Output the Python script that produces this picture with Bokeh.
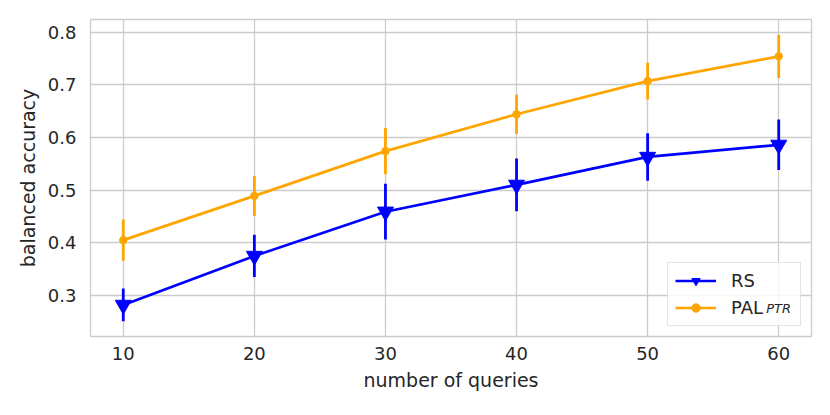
from bokeh.plotting import figure
from bokeh.models import Range1d, FixedTicker, Legend, LegendItem, ColumnDataSource
from bokeh.embed import file_html
from bokeh.resources import INLINE

queries = [10, 20, 30, 40, 50, 60]
rs_mean = [0.282, 0.375, 0.459, 0.510, 0.563, 0.586]
rs_err = [0.031, 0.040, 0.053, 0.050, 0.045, 0.048]
pal_mean = [0.405, 0.489, 0.574, 0.644, 0.707, 0.754]
pal_err = [0.039, 0.038, 0.044, 0.037, 0.035, 0.041]
x_ticks = [10, 20, 30, 40, 50, 60]
y_ticks = [0.3, 0.4, 0.5, 0.6, 0.7, 0.8]

BLUE = "#0000ff"
ORANGE = "#ffa500"
TXT = "#262626"
GRID = "#cccccc"
FONT = "DejaVu Sans"

p = figure(width=814, height=399, output_backend="svg", toolbar_location=None,
           x_range=Range1d(7.5, 62.5), y_range=Range1d(0.222, 0.824),
           min_border_left=90, min_border_right=3, min_border_top=19, min_border_bottom=63)

p.background_fill_color = "white"
p.outline_line_color = GRID
p.outline_line_width = 1.3

for ax in (p.xaxis[0], p.yaxis[0]):
    ax.axis_line_color = None
    ax.major_tick_line_color = None
    ax.minor_tick_line_color = None
    ax.major_tick_out = 0
    ax.major_tick_in = 0
    ax.major_label_text_font = FONT
    ax.major_label_text_font_size = "18px"
    ax.major_label_text_color = TXT
    ax.axis_label_text_font = FONT
    ax.axis_label_text_font_size = "19px"
    ax.axis_label_text_font_style = "normal"
    ax.axis_label_text_color = TXT

p.xaxis.ticker = FixedTicker(ticks=x_ticks)
p.yaxis.ticker = FixedTicker(ticks=y_ticks)
p.xaxis.axis_label = "number of queries"
p.yaxis.axis_label = "balanced accuracy"
p.xaxis.major_label_standoff = 10
p.yaxis.major_label_standoff = 14
p.xaxis.axis_label_standoff = 6
p.yaxis.axis_label_standoff = 6

p.xgrid.ticker = FixedTicker(ticks=x_ticks)
p.ygrid.ticker = FixedTicker(ticks=y_ticks)
p.grid.grid_line_color = GRID
p.grid.grid_line_width = 1.3

src = ColumnDataSource(dict(
    x=queries,
    rs=rs_mean,
    rs_lo=[m - e for m, e in zip(rs_mean, rs_err)],
    rs_hi=[m + e for m, e in zip(rs_mean, rs_err)],
    pal=pal_mean,
    pal_lo=[m - e for m, e in zip(pal_mean, pal_err)],
    pal_hi=[m + e for m, e in zip(pal_mean, pal_err)],
))

rs_bar = p.segment(x0="x", y0="rs_lo", x1="x", y1="rs_hi", source=src, line_color=BLUE, line_width=2.8)
rs_line = p.line("x", "rs", source=src, line_color=BLUE, line_width=2.7)
rs_mark = p.scatter("x", "rs", source=src, marker="inverted_triangle", size=16,
                    fill_color=BLUE, line_color=BLUE)

pal_bar = p.segment(x0="x", y0="pal_lo", x1="x", y1="pal_hi", source=src, line_color=ORANGE, line_width=2.8)
pal_line = p.line("x", "pal", source=src, line_color=ORANGE, line_width=2.7)
pal_mark = p.scatter("x", "pal", source=src, marker="circle", size=7.5,
                     fill_color=ORANGE, line_color=ORANGE)

legend = Legend(items=[
    LegendItem(label="RS", renderers=[rs_line, rs_mark]),
    LegendItem(label="PAL", renderers=[pal_line, pal_mark]),
], location="bottom_right")
legend.margin = 10
legend.padding = 7
legend.spacing = 6
legend.glyph_width = 41
legend.glyph_height = 21
legend.label_standoff = 15
legend.label_width = 62
legend.label_text_font = FONT
legend.label_text_font_size = "18px"
legend.label_text_color = TXT
legend.border_line_color = GRID
legend.border_line_width = 1.3
legend.background_fill_color = "white"
legend.background_fill_alpha = 0.8
p.add_layout(legend)

# subscript "PTR" of the PAL label, drawn as a second, transparent legend on top
ghost = p.line(x=[], y=[], line_alpha=0)
sub_legend = Legend(items=[LegendItem(label="PTR", renderers=[ghost])], location="bottom_right")
sub_legend.margin = 20
sub_legend.padding = 0
sub_legend.spacing = 0
sub_legend.glyph_width = 0
sub_legend.glyph_height = 14
sub_legend.label_height = 14
sub_legend.label_standoff = 0
sub_legend.label_text_font = FONT
sub_legend.label_text_font_size = "13px"
sub_legend.label_text_font_style = "italic"
sub_legend.label_text_color = TXT
sub_legend.border_line_color = None
sub_legend.background_fill_alpha = 0
p.add_layout(sub_legend)

open("out.html", "w").write(file_html(p, INLINE))
